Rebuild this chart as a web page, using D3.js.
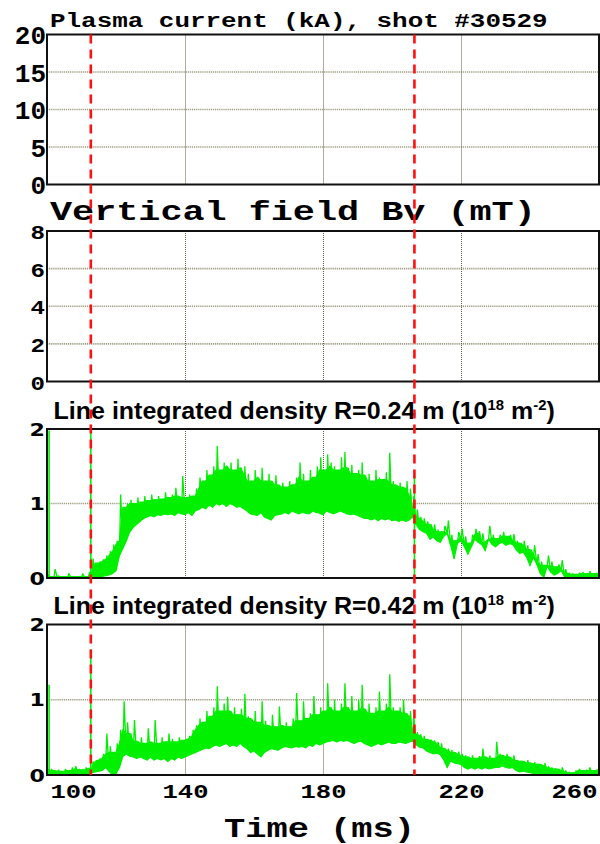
<!DOCTYPE html>
<html>
<head>
<meta charset="utf-8">
<script src="https://cdn.jsdelivr.net/npm/d3@7"></script>
<style>
  html, body { margin: 0; padding: 0; background: #fff; }
  svg { display: block; }
</style>
</head>
<body>
<svg id="chart" width="600" height="844"></svg>
<script>
// ---- data ----------------------------------------------------------------
const shot = "30529";
const timeStart = 100;          // ms, first sample of the envelope arrays
const timeStep = 1;             // ms between envelope samples
const timeDomain = [100, 260];
const timeTicks = [100, 140, 180, 220, 260];
const markerTimes = [112.7, 206.5];   // dashed reference times (ms)

const currentTicks = [0, 5, 10, 15, 20];
const fieldTicks = [0, 2, 4, 6, 8];
const densityTicks = [0, 1, 2];

// line integrated density, R = 0.24 m : per-ms lower / upper envelope (1e18 m^-2)
const dens024Lo = [
  0,0,0,0,0,0,0,0,0,0,
  0,0,0.01,0.02,0.01,0,0.02,0.03,0.04,0.06,
  0.1,0.3,0.4,0.5,0.62,0.68,0.72,0.76,0.8,0.82,
  0.84,0.82,0.85,0.84,0.86,0.85,0.86,0.84,0.88,0.86,
  0.85,0.88,0.84,0.9,0.92,0.95,0.93,0.98,0.95,1.0,
  0.98,1.0,0.96,1.0,0.98,0.95,0.96,0.93,0.9,0.86,
  0.85,0.84,0.88,0.82,0.8,0.78,0.84,0.85,0.86,0.88,
  0.86,0.9,0.88,0.86,0.88,0.87,0.86,0.9,0.88,0.87,
  0.85,0.9,0.88,0.86,0.88,0.9,0.88,0.86,0.85,0.86,
  0.84,0.82,0.8,0.8,0.78,0.8,0.77,0.8,0.78,0.8,
  0.77,0.78,0.76,0.78,0.76,0.78,0.82,0.72,0.65,0.62,
  0.6,0.52,0.55,0.5,0.48,0.56,0.6,0.44,0.26,0.47,
  0.5,0.42,0.32,0.42,0.52,0.48,0.45,0.37,0.52,0.45,
  0.42,0.46,0.48,0.44,0.46,0.45,0.38,0.33,0.35,0.28,
  0.17,0.28,0.18,0.06,0.01,0.16,0.08,0.04,0.06,0.1,
  0.02,0,0.01,0,0.01,0,0.01,0,0.01,0,
  0.01
];
const dens024Hi = [
  0.05,0.02,0.12,0.03,0.02,0.02,0.06,0.02,0.02,0.02,
  0.06,0.02,0.08,0.26,0.2,0.22,0.25,0.3,0.36,0.45,
  0.5,1.12,0.95,1.0,1.05,1.0,1.08,1.02,1.1,1.04,
  1.12,1.05,1.1,1.06,1.15,1.08,1.12,1.21,1.1,1.37,
  1.08,1.12,1.1,1.2,1.35,1.3,1.45,1.38,1.5,1.77,
  1.45,1.55,1.5,1.55,1.45,1.6,1.48,1.5,1.4,1.3,
  1.45,1.35,1.48,1.3,1.4,1.3,1.38,1.25,1.28,1.22,
  1.3,1.25,1.35,1.55,1.4,1.3,1.45,1.35,1.5,1.62,
  1.45,1.66,1.55,1.5,1.45,1.62,1.69,1.48,1.52,1.4,
  1.45,1.55,1.38,1.4,1.3,1.45,1.35,1.32,1.42,1.68,
  1.3,1.25,1.28,1.22,1.3,1.2,1.1,0.92,0.82,0.8,
  0.76,0.72,0.72,0.65,0.62,0.7,0.77,0.58,0.5,0.62,
  0.66,0.56,0.47,0.58,0.66,0.63,0.6,0.48,0.7,0.58,
  0.53,0.58,0.62,0.56,0.58,0.59,0.5,0.47,0.5,0.44,
  0.38,0.44,0.32,0.22,0.17,0.3,0.22,0.15,0.18,0.24,
  0.12,0.07,0.06,0.05,0.07,0.08,0.06,0.09,0.06,0.07,
  0.06
];
// isolated single-sample spikes [time ms, value]
const dens024Spikes = [[100.6, 1.98], [112.7, 1.95], [206.5, 1.38]];

// line integrated density, R = 0.42 m
const dens042Lo = [
  0,0,0,0.01,0,0,0.01,0,0.01,0,
  0,0.01,0,0.03,0.04,0.05,0.06,0.1,0.05,0,
  0.02,0.1,0.25,0.28,0.25,0.24,0.22,0.24,0.22,0.2,
  0.24,0.2,0.22,0.2,0.22,0.18,0.22,0.2,0.24,0.22,
  0.24,0.26,0.28,0.3,0.32,0.34,0.36,0.35,0.38,0.4,
  0.38,0.4,0.42,0.38,0.4,0.38,0.42,0.38,0.35,0.3,
  0.32,0.28,0.24,0.3,0.33,0.35,0.34,0.33,0.36,0.38,
  0.37,0.36,0.38,0.37,0.38,0.36,0.4,0.38,0.42,0.4,
  0.42,0.44,0.45,0.46,0.44,0.46,0.45,0.46,0.44,0.42,
  0.44,0.45,0.42,0.4,0.38,0.4,0.42,0.4,0.42,0.44,
  0.42,0.42,0.44,0.43,0.42,0.44,0.45,0.4,0.37,0.36,
  0.32,0.3,0.28,0.29,0.27,0.2,0.1,0.19,0.16,0.15,
  0.14,0.1,0.08,0.1,0.08,0.1,0.08,0.1,0.08,0.09,
  0.1,0.1,0.12,0.1,0.09,0.1,0.06,0.04,0.05,0.04,
  0.03,0.02,0.01,0.02,0.01,0.01,0,0.01,0,0,
  0,0,0,0,0.01,0,0.01,0,0.01,0,
  0.01
];
const dens042Hi = [
  0.08,0.08,0.06,0.07,0.05,0.08,0.06,0.1,0.12,0.08,
  0.07,0.1,0.09,0.18,0.2,0.22,0.28,0.55,0.38,0.3,
  0.42,0.6,0.98,0.7,0.55,0.73,0.45,0.5,0.42,0.62,
  0.44,0.73,0.42,0.5,0.44,0.55,0.48,0.44,0.5,0.46,
  0.48,0.52,0.6,0.66,0.75,0.7,0.85,0.78,0.9,1.18,
  0.85,0.95,1.04,0.85,0.9,0.8,0.88,1.08,0.78,0.75,
  0.85,0.7,0.98,0.72,0.66,0.8,0.64,0.91,0.66,0.7,
  0.64,0.75,1.09,0.72,0.98,0.75,0.82,1.05,0.8,0.9,
  0.85,1.22,0.9,1.0,0.85,0.95,1.22,0.9,1.05,0.85,
  1.0,1.2,0.88,0.95,0.82,0.9,1.11,0.85,0.95,1.34,
  0.9,0.85,0.9,1.0,0.82,0.85,0.78,0.57,0.54,0.52,
  0.48,0.47,0.46,0.44,0.42,0.36,0.35,0.33,0.3,0.31,
  0.28,0.26,0.24,0.26,0.22,0.25,0.35,0.24,0.26,0.22,
  0.44,0.28,0.26,0.28,0.24,0.26,0.2,0.19,0.18,0.2,
  0.16,0.17,0.15,0.14,0.16,0.12,0.1,0.09,0.08,0.1,
  0.06,0.04,0.03,0.06,0.08,0.06,0.07,0.1,0.06,0.07,
  0.08
];
const dens042Spikes = [[100.6, 1.2], [112.7, 1.67]];

// ---- layout ----------------------------------------------------------------
const svg = d3.select("#chart");
const plotLeft = 47, plotRight = 599;
const monoFont = "'Liberation Mono', 'Courier New', monospace";
const sansFont = "'Liberation Sans', Arial, sans-serif";
const tickSans = "'DejaVu Sans', Verdana, sans-serif";
const green = "#00f000";

const x = d3.scaleLinear().domain(timeDomain).range([plotLeft, plotRight]);

const panels = [
  { top: 34.5, bottom: 184.5, domain: [0, 20], ticks: currentTicks,
    tickFont: monoFont, tickSize: 26, tickX: 46, tickScale: 1 },
  { top: 231, bottom: 381.5, domain: [0, 8], ticks: fieldTicks,
    tickFont: monoFont, tickSize: 21, tickX: 45, tickScale: 1.15 },
  { top: 429, bottom: 578, domain: [0, 2], ticks: densityTicks,
    tickFont: tickSans, tickSize: 17, tickX: 45, tickScale: 1.3,
    lo: dens024Lo, hi: dens024Hi, spikes: dens024Spikes },
  { top: 624.5, bottom: 775, domain: [0, 2], ticks: densityTicks,
    tickFont: tickSans, tickSize: 17, tickX: 45, tickScale: 1.3,
    lo: dens042Lo, hi: dens042Hi, spikes: dens042Spikes }
];

// stretch a text element horizontally so it spans [x0, x1]
function fitText(node, x0, x1, baseline) {
  const w = node.getBBox().width;
  const s = (x1 - x0) / w;
  d3.select(node).attr("x", 0).attr("y", 0)
    .attr("transform", `translate(${x0},${baseline}) scale(${s},1)`);
}

panels.forEach(p => {
  const y = d3.scaleLinear().domain(p.domain).range([p.bottom, p.top]);
  const g = svg.append("g");

  g.append("rect")
    .attr("x", plotLeft).attr("y", p.top)
    .attr("width", plotRight - plotLeft).attr("height", p.bottom - p.top)
    .attr("fill", "#fff");

  // horizontal grid (inner ticks only)
  g.append("g").selectAll("line")
    .data(p.ticks.filter(v => v > p.domain[0] && v < p.domain[1]))
    .join("line")
    .attr("x1", plotLeft).attr("x2", plotRight)
    .attr("y1", d => y(d)).attr("y2", d => y(d))
    .attr("stroke", "#9c9a7e").attr("stroke-width", 1.6)
    .attr("stroke-dasharray", "1.2,0.9");

  // vertical grid
  g.append("g").selectAll("line")
    .data(timeTicks.filter(v => v > timeDomain[0] && v < timeDomain[1]))
    .join("line")
    .attr("x1", d => Math.round(x(d)) + 0.5).attr("x2", d => Math.round(x(d)) + 0.5)
    .attr("y1", p.top).attr("y2", p.bottom)
    .attr("stroke", "#5e5c3c").attr("stroke-width", 1)
    .attr("stroke-dasharray", "1,1");

  // signal envelope
  if (p.lo) {
    const pts = p.lo.map((v, i) => {
      // solid core: the lowest of the neighbouring upper envelope values
      const core = Math.max(v, d3.min(p.hi.slice(Math.max(0, i - 1), i + 2)));
      return { t: timeStart + i * timeStep, lo: v, hi: p.hi[i], core };
    });
    const clipId = "clip" + Math.round(p.top);
    svg.append("clipPath").attr("id", clipId).append("rect")
      .attr("x", plotLeft).attr("y", p.top)
      .attr("width", plotRight - plotLeft).attr("height", p.bottom - p.top);
    const sg = g.append("g").attr("clip-path", `url(#${clipId})`);

    sg.append("path").datum(pts)
      .attr("d", d3.area().x(d => x(d.t)).y0(d => y(d.lo)).y1(d => y(d.core)))
      .attr("fill", green).attr("stroke", green).attr("stroke-width", 1.2);

    // trace through each sample's extremes, giving the noisy texture
    const zig = [];
    pts.forEach(d => { zig.push([d.t, d.lo]); zig.push([d.t + 0.35, d.hi]); });
    sg.append("path").datum(zig)
      .attr("d", d3.line().x(d => x(d[0])).y(d => y(d[1])))
      .attr("fill", "none").attr("stroke", green).attr("stroke-width", 1.3)
      .attr("stroke-linejoin", "bevel");

    sg.selectAll("line.spike").data(p.spikes).join("line")
      .attr("class", "spike")
      .attr("x1", d => x(d[0])).attr("x2", d => x(d[0]))
      .attr("y1", y(0)).attr("y2", d => y(d[1]))
      .attr("stroke", green).attr("stroke-width", 1.6);
  }

  // frame
  g.append("rect")
    .attr("x", plotLeft).attr("y", p.top)
    .attr("width", plotRight - plotLeft).attr("height", p.bottom - p.top)
    .attr("fill", "none").attr("stroke", "#111").attr("stroke-width", 2);

  // y tick labels
  const yAxis = d3.axisLeft(y).tickValues(p.ticks).tickSize(0).tickPadding(0)
    .tickFormat(d3.format("d"));
  const ya = svg.append("g").attr("transform", `translate(${p.tickX},0)`).call(yAxis);
  ya.select(".domain").remove();
  ya.selectAll(".tick text")
    .attr("font-family", p.tickFont).attr("font-weight", "bold")
    .attr("font-size", p.tickSize).attr("fill", "#000")
    .attr("x", 0).attr("dy", "0.36em")
    .attr("transform", `scale(${p.tickScale},1)`);
});

// titles
const t1 = svg.append("text").text(`Plasma current (kA), shot #${shot}`)
  .attr("font-family", monoFont).attr("font-weight", "bold").attr("font-size", 21);
fitText(t1.node(), 50, 548, 27.3);

const t2 = svg.append("text").text("Vertical field Bv (mT)")
  .attr("font-family", monoFont).attr("font-weight", "bold").attr("font-size", 28);
fitText(t2.node(), 50, 536, 220);

function densityTitle(radius, baseline) {
  const t = svg.append("text")
    .attr("font-family", sansFont).attr("font-weight", "bold").attr("font-size", 23.5)
    .attr("fill", "#000");
  t.append("tspan").text(`Line integrated density R=${radius} m (10`);
  t.append("tspan").text("18").attr("font-size", 14).attr("dy", -9);
  t.append("tspan").text(" m").attr("dy", 9);
  t.append("tspan").text("-2").attr("font-size", 14).attr("dy", -9);
  t.append("tspan").text(")").attr("dy", 9);
  fitText(t.node(), 53.6, 555, baseline);
}
densityTitle("0.24", 418.5);
densityTitle("0.42", 613.5);

// time axis labels under the last panel
const xAxis = d3.axisBottom(x).tickValues(timeTicks).tickSize(0).tickPadding(0)
  .tickFormat(d3.format("d"));
const xa = svg.append("g").attr("transform", "translate(0,798)").call(xAxis);
xa.select(".domain").remove();
xa.selectAll("text")
  .attr("font-family", monoFont).attr("font-weight", "bold").attr("font-size", 20)
  .attr("fill", "#000").attr("dy", 0).attr("y", 0)
  .attr("textLength", 46).attr("lengthAdjust", "spacingAndGlyphs")
  .attr("text-anchor", (d, i, n) => i === 0 ? "start" : i === n.length - 1 ? "end" : "middle")
  .attr("x", (d, i, n) => i === 0 ? 3 : i === n.length - 1 ? -2 : 0);

const xt = svg.append("text").text("Time (ms)")
  .attr("font-family", monoFont).attr("font-weight", "bold").attr("font-size", 27);
fitText(xt.node(), 224, 415, 836.7);

// dashed reference times spanning all panels
svg.append("g").selectAll("line").data(markerTimes).join("line")
  .attr("x1", d => x(d)).attr("x2", d => x(d))
  .attr("y1", panels[0].top).attr("y2", panels[3].bottom)
  .attr("stroke", "#ff1010").attr("stroke-width", 2.6)
  .attr("stroke-dasharray", "9,6");
</script>
</body>
</html>
